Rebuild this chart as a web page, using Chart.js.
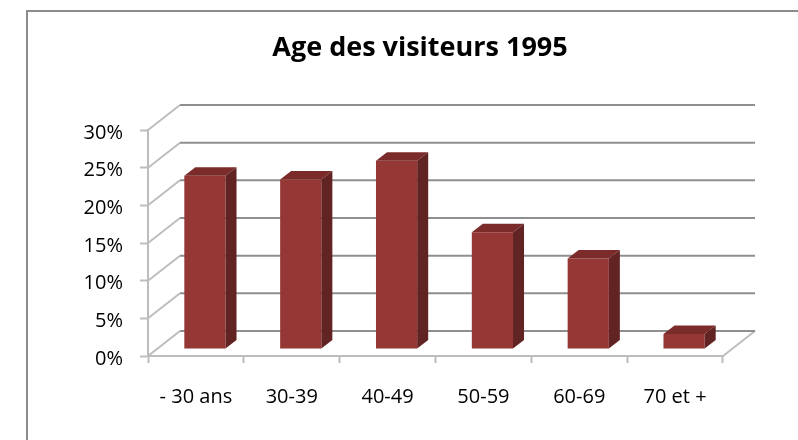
<!DOCTYPE html>
<html lang="fr">
<head>
  <meta charset="UTF-8" />
  <title>Age des visiteurs 1995</title>
  <script src="https://cdn.jsdelivr.net/npm/chart.js"></script>
  <style>
    html, body {
      margin: 0;
      padding: 0;
      background: #fff;
    }
    #wrap {
      width: 798px;
      height: 440px;
    }
  </style>
</head>
<body>
  <div id="wrap"><canvas id="chart" width="798" height="440"></canvas></div>

  <script>
    const categories = ["- 30 ans", "30-39", "40-49", "50-59", "60-69", "70 et +"];
    const visitorShare = [23, 22.5, 25, 15.5, 12, 2];
    const tickValues = [0, 5, 10, 15, 20, 25, 30];

    // fake 3D look (Excel style): back wall offset, bar depth
    const wallDX = 32, wallDY = 25;
    const barShiftX = 9, barShiftY = 7;
    const barDX = 11, barDY = 8.5;

    const frontColor = "#953735";
    const sideColor = "#622423";
    const topColor = "#7b2c2a";

    const fake3d = {
      id: "fake3d",
      beforeDraw(chart) {
        const ctx = chart.ctx;
        ctx.save();
        ctx.strokeStyle = "#8c8c8c";
        ctx.lineWidth = 2;
        ctx.strokeRect(27, 11, chart.width, chart.height);
        ctx.restore();
      },
      beforeDatasetsDraw(chart) {
        const ctx = chart.ctx;
        const x = chart.scales.x, y = chart.scales.y;
        const left = x.left, right = x.right;
        ctx.save();
        ctx.lineWidth = 2;
        // left wall diagonals
        ctx.strokeStyle = "#bdbdbd";
        tickValues.forEach(v => {
          const py = y.getPixelForValue(v);
          ctx.beginPath();
          ctx.moveTo(left, py);
          ctx.lineTo(left + wallDX, py - wallDY);
          ctx.stroke();
        });
        // floor right edge
        const y0 = y.getPixelForValue(0);
        ctx.beginPath();
        ctx.moveTo(right, y0);
        ctx.lineTo(right + wallDX, y0 - wallDY);
        ctx.stroke();
        // back wall gridlines
        ctx.strokeStyle = "#8f8f8f";
        tickValues.forEach(v => {
          const py = y.getPixelForValue(v) - wallDY;
          ctx.beginPath();
          ctx.moveTo(left + wallDX, py);
          ctx.lineTo(right + wallDX, py);
          ctx.stroke();
        });
        ctx.restore();
        // bars sit a bit into the depth
        ctx.save();
        ctx.translate(barShiftX, -barShiftY);
      },
      afterDatasetsDraw(chart) {
        const ctx = chart.ctx;
        ctx.restore();
        const meta = chart.getDatasetMeta(0);
        ctx.save();
        meta.data.forEach(bar => {
          const p = bar.getProps(["x", "y", "base", "width"], true);
          const x0 = p.x - p.width / 2 + barShiftX;
          const x1 = p.x + p.width / 2 + barShiftX;
          const yt = p.y - barShiftY;
          const yb = p.base - barShiftY;
          // top face
          ctx.fillStyle = topColor;
          ctx.beginPath();
          ctx.moveTo(x0, yt);
          ctx.lineTo(x1, yt);
          ctx.lineTo(x1 + barDX, yt - barDY);
          ctx.lineTo(x0 + barDX, yt - barDY);
          ctx.closePath();
          ctx.fill();
          // side face
          ctx.fillStyle = sideColor;
          ctx.beginPath();
          ctx.moveTo(x1, yt);
          ctx.lineTo(x1 + barDX, yt - barDY);
          ctx.lineTo(x1 + barDX, yb - barDY);
          ctx.lineTo(x1, yb);
          ctx.closePath();
          ctx.fill();
        });
        ctx.restore();
      }
    };

    const ctx = document.getElementById("chart").getContext("2d");
    new Chart(ctx, {
      type: "bar",
      data: {
        labels: categories,
        datasets: [{
          data: visitorShare,
          backgroundColor: frontColor,
          borderWidth: 0,
          categoryPercentage: 1,
          barPercentage: 0.43
        }]
      },
      options: {
        responsive: false,
        animation: false,
        // left padding + empty right axis keep the title centred like the original
        layout: { padding: { left: 42, right: 0, top: 0, bottom: 0 } },
        plugins: {
          legend: { display: false },
          tooltip: { enabled: false },
          title: {
            display: true,
            text: "Age des visiteurs 1995",
            color: "#000",
            font: { family: "'Open Sans'", size: 27, weight: "bold" },
            padding: { top: 32, bottom: 65.6 }
          }
        },
        scales: {
          x: {
            grid: {
              drawOnChartArea: false,
              drawTicks: true,
              tickLength: 7,
              tickColor: "#bdbdbd",
              tickWidth: 2
            },
            border: { color: "#bdbdbd", width: 2 },
            ticks: {
              color: "#000",
              padding: 22,
              font: { family: "'Open Sans'", size: 20 }
            },
            afterFit(scale) { scale.height = 84; }
          },
          y: {
            min: 0,
            max: 30,
            afterBuildTicks(scale) { scale.ticks = tickValues.map(v => ({ value: v })); },
            grid: {
              drawOnChartArea: false,
              drawTicks: true,
              tickLength: 8,
              tickColor: "#bdbdbd",
              tickWidth: 2
            },
            border: { color: "#bdbdbd", width: 2 },
            ticks: {
              color: "#000",
              padding: 17,
              labelOffset: 3,
              font: { family: "'Open Sans'", size: 20 },
              callback: v => v + "%"
            },
            afterFit(scale) { scale.width = 106; }
          },
          spacer: {
            type: "linear",
            position: "right",
            grid: { display: false },
            border: { display: false },
            ticks: { display: false },
            afterFit(scale) { scale.width = 75; }
          }
        }
      },
      plugins: [fake3d]
    });
  </script>
</body>
</html>
